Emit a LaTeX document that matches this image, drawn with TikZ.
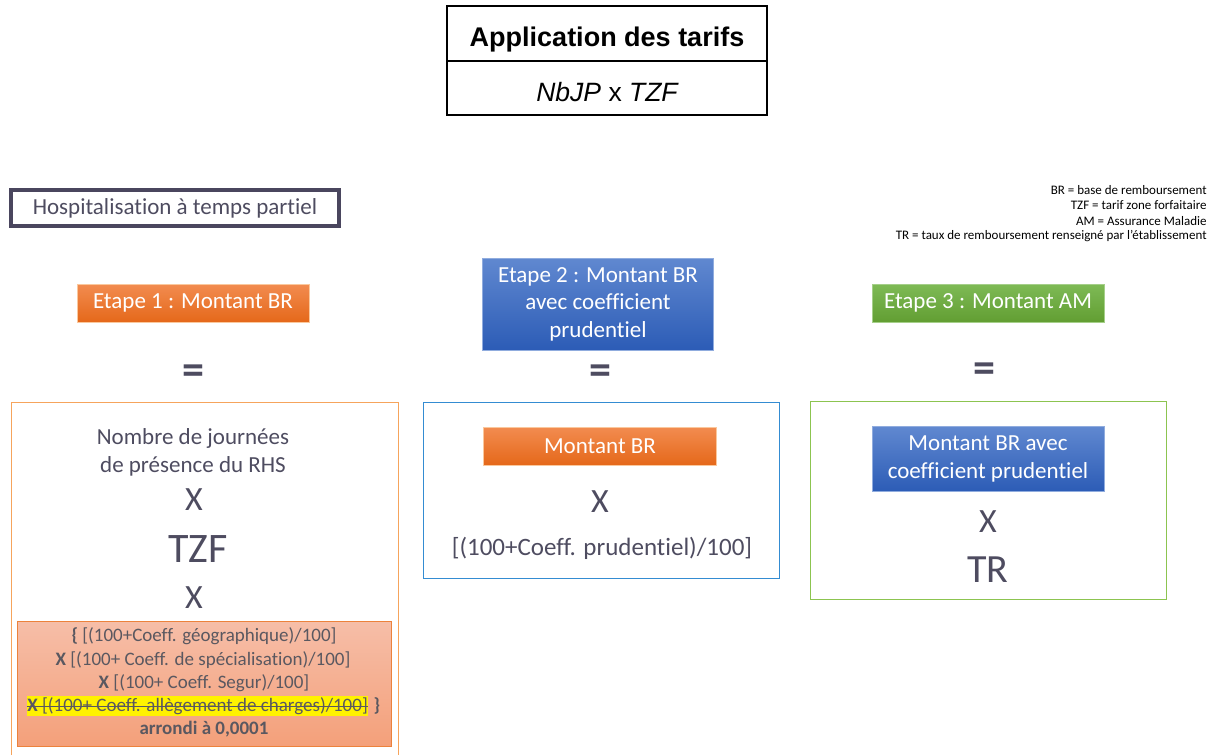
\documentclass[tikz,border=0pt]{standalone}
\usepackage{fontspec}
\setmainfont{Carlito}[Ligatures=NoCommon]
\newfontfamily\arialfont{Liberation Sans}
\usetikzlibrary{positioning}
\definecolor{txtgray}{RGB}{78,76,96}
\definecolor{framegray}{RGB}{74,70,94}
\definecolor{orangetop}{RGB}{242,140,80}
\definecolor{orangebot}{RGB}{229,104,26}
\definecolor{bluetop}{RGB}{96,136,208}
\definecolor{bluebot}{RGB}{44,92,182}
\definecolor{greentop}{RGB}{126,186,86}
\definecolor{greenbot}{RGB}{98,158,50}
\definecolor{orangeline}{RGB}{246,164,92}
\definecolor{blueline}{RGB}{52,140,210}
\definecolor{greenline}{RGB}{140,196,80}
\definecolor{salmontop}{RGB}{246,190,168}
\definecolor{salmonbot}{RGB}{244,160,122}
\definecolor{salmonline}{RGB}{236,130,60}
\definecolor{coeffgray}{RGB}{90,88,96}
\tikzset{every picture/.style={line width=0.75pt}}
\tikzset{
  stepbox/.style={minimum height=38, inner sep=0, text=white, align=center,
    font=\fontsize{23}{27.5}\selectfont},
  orangebox/.style={stepbox, top color=orangetop, bottom color=orangebot, draw=orangeline!60!white},
  bluebox/.style={stepbox, top color=bluetop, bottom color=bluebot, draw=bluetop!70!white},
  greenbox/.style={stepbox, top color=greentop, bottom color=greenbot, draw=greentop!70!white},
  eqsign/.style={text=txtgray, font=\fontsize{44}{44}\selectfont\bfseries, inner sep=0},
  bigtxt/.style={text=txtgray, inner sep=0, align=center},
  coefftxt/.style={text=coeffgray, inner sep=0, font=\fontsize{19}{23}\selectfont},
  legendtxt/.style={anchor=east, inner sep=0, font=\fontsize{13}{14}\selectfont}
}
\begin{document}
\begin{tikzpicture}[x=1pt,y=1pt,yscale=-1,xscale=1]
\useasboundingbox (0,0) rectangle (1215,755);

% Title box
\draw [line width=2pt] (447,6) rectangle (767,115);
\draw [line width=2pt] (447,61) -- (767,61);
\node (title) [inner sep=0, font=\arialfont\fontsize{27}{27}\selectfont\bfseries] at (607,40) {Application des tarifs};
\node (formula) [inner sep=0, font=\arialfont\fontsize{26.5}{27}\selectfont] at (607,92) {\itshape NbJP\/ \upshape x \itshape TZF};

% Hospitalisation box
\node (hospit) [draw=framegray, line width=4pt, minimum width=328, minimum height=36, inner sep=0,
  text=txtgray, font=\fontsize{23}{27}\selectfont] at (175,208) {Hospitalisation à temps partiel};

% Legend
\node (leg1) [legendtxt] at (1207,190) {BR = base de remboursement};
\node (leg2) [legendtxt] at (1207,205) {TZF = tarif zone forfaitaire};
\node (leg3) [legendtxt] at (1207,221) {AM = Assurance Maladie};
\node (leg4) [legendtxt] at (1207,236) {TR = taux de remboursement renseigné par l’établissement};

% Step headers
\node (etape1) [orangebox, minimum width=232] at (193,303) {Etape 1 : Montant BR};
\node (etape2) [bluebox, minimum width=231, minimum height=92] at (598,304) {Etape 2 : Montant BR\\avec coefficient\\prudentiel};
\node (etape3) [greenbox, minimum width=232] at (988,303) {Etape 3 : Montant AM};

% Equal signs
\node (eq1) [eqsign] at (193,375) {=};
\node (eq2) [eqsign] at (600,375) {=};
\node (eq3) [eqsign] at (984,373) {=};

% Step 1 frame
\draw [orangeline] (11,755) -- (11,402) -- (398,402) -- (398,755);
\node (nbjp) [bigtxt, font=\fontsize{23}{28}\selectfont] at (193,452) {Nombre de journées\\de présence du RHS};
\node (times1) [bigtxt, font=\fontsize{34}{34}\selectfont] at (194,500) {X};
\node (tzf) [bigtxt, font=\fontsize{42}{42}\selectfont] at (198,549) {TZF};
\node (times2) [bigtxt, font=\fontsize{34}{34}\selectfont] at (194,598) {X};

% Coefficients box
\draw [salmonline, top color=salmontop, bottom color=salmonbot] (17,621) rectangle (391,746);
\node (coeff1) [coefftxt] at (204,636) {\textbf{\{} [(100+Coeff. géographique)/100]};
\node (coeff2) [coefftxt] at (203,660) {\textbf{X} [(100+ Coeff. de spécialisation)/100]};
\node (coeff3) [coefftxt] at (204,683) {\textbf{X} [(100+ Coeff. Segur)/100]};
\node (coeff4) [coefftxt, fill=yellow, anchor=west, inner ysep=1] at (27,706) {\textbf{X} [(100+ Coeff. allègement de charges)/100]};
\draw [coeffgray, line width=1pt] (coeff4.west) -- (coeff4.east);
\node (brace) [coefftxt, right=5 of coeff4] {\textbf{\}}};
\node (arrondi) [coefftxt, font=\fontsize{19}{23}\selectfont\bfseries] at (204,729) {arrondi à 0,0001};

% Step 2 frame
\draw [blueline] (423,402) rectangle (779,578);
\node (montant) [orangebox, minimum width=233] at (600,446) {Montant BR};
\node (times3) [bigtxt, font=\fontsize{34}{34}\selectfont] at (600,502) {X};
\node (prud) [bigtxt, font=\fontsize{25}{28}\selectfont] at (602,548) {[(100+Coeff. prudentiel)/100]};

% Step 3 frame
\draw [greenline] (810,401) rectangle (1166,599);
\node (montantcp) [bluebox, minimum width=232, minimum height=65, font=\fontsize{23}{28}\selectfont] at (988,459) {Montant BR avec\\coefficient prudentiel};
\node (times4) [bigtxt, font=\fontsize{34}{34}\selectfont] at (988,522) {X};
\node (tr) [bigtxt, font=\fontsize{40}{40}\selectfont] at (988,570) {TR};

\end{tikzpicture}
\end{document}
